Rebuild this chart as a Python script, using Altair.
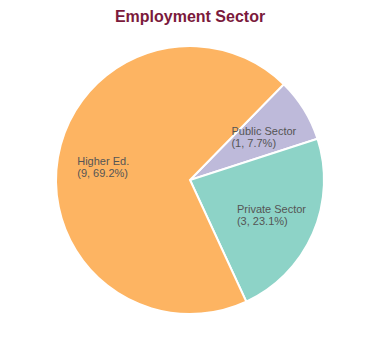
import altair as alt
import pandas as pd

categories = ["Public Sector", "Private Sector", "Higher Ed."]
counts = [1, 3, 9]
colors = ["#BEBADA", "#8DD3C7", "#FDB462"]

total = sum(counts)
labels = [f"{c}\n({n}, {n / total * 100:.1f}%)" for c, n in zip(categories, counts)]
df = pd.DataFrame({
    "sector": categories,
    "count": counts,
    "order": list(range(len(categories))),
    "label": labels,
})

start = 0.775
theta_scale = alt.Scale(range=[start, start + 2 * 3.141592653589793])

base = alt.Chart(df).encode(
    theta=alt.Theta("count:Q", stack=True, scale=theta_scale),
    order=alt.Order("order:Q"),
)

arcs = base.mark_arc(radius=134, stroke="white", strokeWidth=2).encode(
    color=alt.Color("sector:N", scale=alt.Scale(domain=categories, range=colors), legend=None)
)

text = base.mark_text(
    radius=84, align="left", dx=-30, dy=-4, baseline="middle", lineBreak="\n",
    fontSize=11, lineHeight=12.5, font="Liberation Sans", color="#555555"
).encode(text="label:N")

chart = (arcs + text).properties(
    width=364,
    height=296,
    padding={"top": 24, "left": 0, "right": 0, "bottom": 0},
    autosize=alt.AutoSizeParams(type="none"),
    title=alt.Title("Employment Sector", fontSize=16, font="Liberation Sans",
                    fontWeight="bold", color="#7B1A3C", offset=7),
).configure_view(stroke=None)

chart.save("out.html", embed_options={"renderer": "svg", "actions": False})
